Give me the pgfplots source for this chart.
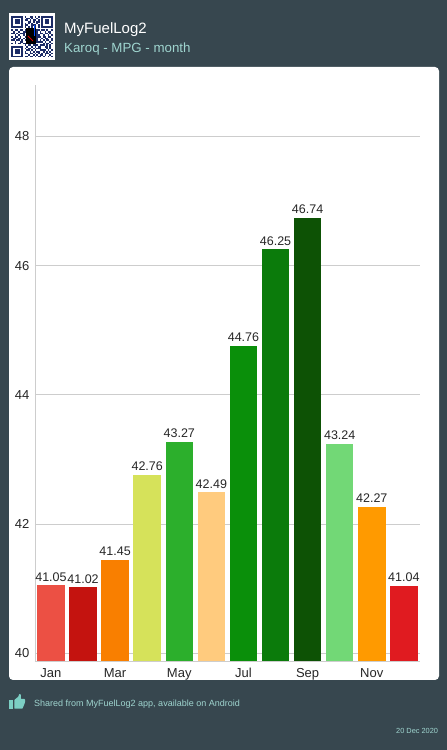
\documentclass[border=0pt]{standalone}
\usepackage{fontspec}
\setmainfont{Liberation Sans}
\usepackage{pgfplots}
\pgfplotsset{compat=1.18}
\definecolor{bg}{HTML}{37474F}
\definecolor{teal1}{HTML}{9FD5CF}
\definecolor{thumb}{HTML}{7CCFC4}
\definecolor{qrn}{HTML}{1B2B66}
\definecolor{gridc}{HTML}{CDCDCD}
\definecolor{cJan}{HTML}{EC5044}
\definecolor{cFeb}{HTML}{C4130F}
\definecolor{cMar}{HTML}{F97F00}
\definecolor{cApr}{HTML}{D6E25A}
\definecolor{cMay}{HTML}{2CAF2C}
\definecolor{cJun}{HTML}{FFCB7E}
\definecolor{cJul}{HTML}{0A8F0A}
\definecolor{cAug}{HTML}{0B7B0B}
\definecolor{cSep}{HTML}{0D5205}
\definecolor{cOct}{HTML}{72D876}
\definecolor{cNov}{HTML}{FF9A00}
\definecolor{cDec}{HTML}{E01B20}
\newcommand\qr[1]{\ifx#1.\else\if1#1\fill[qrn] ({11.3+\qi*1.66},{750-16-\qj*1.66}) rectangle ++(1.66,-1.66);\fi\pgfmathtruncatemacro\qi{\qi+1}\expandafter\qr\fi}
\newcommand\bbar[2]{\addplot[fill=#1,draw=none] coordinates {#2};}
\begin{document}
\begin{tikzpicture}[x=1pt,y=1pt]
\path[use as bounding box] (0,0) rectangle (447,750);
\fill[bg] (0,0) rectangle (447,750);
% header
\fill[white] (8.5,736.5) rectangle (55,690);
\foreach \r [count=\k from 0] in {
1111111010011010101111111,
1000001001101001001000001,
1011101011010110101011101,
1011101000110101101011101,
1011101010101001001011101,
1000001011001110101000001,
1111111010101010101111111,
0000000001011010000000000,
1011011011100101101101001,
0100100110011001010010110,
1101011100111111011011010,
0010100101111111100100101,
1011010011111111110110110,
0110110101111111001011001,
1101101011111111010101101,
0010011001111111111010010,
1010110110010110000101101,
0000000010110111011101010,
1111111001001010110011010,
1000001010110101110001010,
1011101001101010011110101,
1011101010010101100101010,
1011101011011010101011101,
1000001000100101011010010,
1111111011011010110100101}
{\def\qi{0}\pgfmathtruncatemacro\qj{\k}\expandafter\qr\r.}
\fill[black] (26,722) rectangle (36,706);
\draw[red!85!black,line width=.9pt] (28,714) -- (33,709);
\draw[blue!70!cyan,line width=1pt] (34,725) -- (34,714);
\node[anchor=base west,inner sep=0,text=white,font=\fontsize{15}{15}\selectfont] at (64,716) {MyFuelLog2};
\node[anchor=base west,inner sep=0,text=teal1,font=\fontsize{13.3}{13.3}\selectfont] at (64,697.5) {Karoq - MPG - month};
% card
\fill[white,rounded corners=4pt] (9,683) rectangle (439,70);
% footer
\fill[thumb] (9,41.3) rectangle (13,50);
\fill[thumb,rounded corners=.6pt] (14.3,41.3) -- (14.3,50) -- (18.5,53.5) -- (19,56) -- (21,55.5) -- (20.8,51) -- (25,51) -- (25,47.5) -- (22.5,41.3) -- cycle;
\node[anchor=base west,inner sep=0,text=teal1,font=\fontsize{9}{9}\selectfont] at (34,43.5) {Shared from MyFuelLog2 app, available on Android};
\node[anchor=base east,inner sep=0,text=teal1,font=\fontsize{7.4}{7.4}\selectfont] at (438.3,16.5) {20 Dec 2020};
\begin{axis}[
  at={(34.9pt,88.7pt)},anchor=south west,
  scale only axis,width=385pt,height=575.9pt,
  xmin=-0.5,xmax=11.5,
  ymin=39.876,ymax=48.79,
  axis x line*=bottom,axis y line*=left,
  axis line style={gridc,-},
  ybar,bar width=27.5pt,bar shift=0pt,
  xtick={0,2,4,6,8,10},
  xticklabels={Jan,Mar,May,Jul,Sep,Nov},
  ytick={40,42,44,46,48},
  ymajorgrids,grid style={gridc,line width=.8pt},
  major tick length=0pt,
  tick label style={font=\fontsize{13}{13}\selectfont,text=black!85},
  /pgf/number format/assume math mode=true,
  xticklabel style={yshift=-3.5pt},
  yticklabel style={xshift=-2pt},
  nodes near coords,
  nodes near coords style={font=\fontsize{12.5}{12.5}\selectfont,text=black!85,inner sep=0pt,yshift=4pt,anchor=south,
    /pgf/number format/.cd,fixed,fixed zerofill,precision=2,assume math mode=true},
]
\bbar{cJan}{(0,41.05)}
\bbar{cFeb}{(1,41.02)}
\bbar{cMar}{(2,41.45)}
\bbar{cApr}{(3,42.76)}
\bbar{cMay}{(4,43.27)}
\bbar{cJun}{(5,42.49)}
\bbar{cJul}{(6,44.76)}
\bbar{cAug}{(7,46.25)}
\bbar{cSep}{(8,46.74)}
\bbar{cOct}{(9,43.24)}
\bbar{cNov}{(10,42.27)}
\bbar{cDec}{(11,41.04)}
\end{axis}
\end{tikzpicture}
\end{document}
